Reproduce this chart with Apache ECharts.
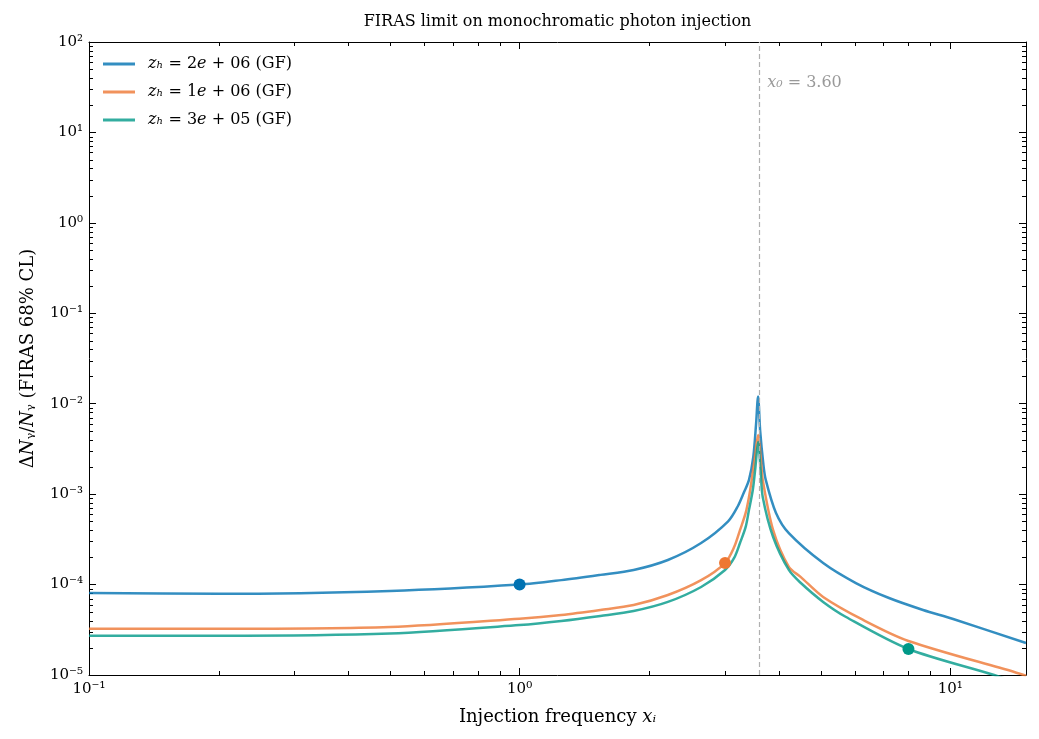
<!DOCTYPE html>
<html>
<head>
<meta charset="utf-8">
<script src="https://cdn.jsdelivr.net/npm/echarts@6/dist/echarts.min.js"></script>
<style>
  html, body { margin: 0; padding: 0; background: #fff; }
  #chart { width: 1039px; height: 739px; }
</style>
</head>
<body>
<div id="chart"></div>
<script>
// injection frequency x_i and limit dN/N for each heating redshift
const xBlue = [0.1, 0.2, 0.5, 1.0, 1.25, 1.54, 1.84, 2.21, 2.64, 3.05, 3.21, 3.32, 3.41, 3.49, 3.54, 3.58, 3.62, 3.68, 3.73, 3.94, 4.22, 5.07, 6.04, 7.21, 8.65, 10.16, 15.0]
const yBlue = [8.05e-5, 7.9e-5, 8.5e-5, 1.0e-4, 1.12e-4, 1.28e-4, 1.45e-4, 1.87e-4, 2.88e-4, 5.0e-4, 7.3e-4, 1.05e-3, 1.44e-3, 2.6e-3, 5.8e-3, 1.2e-2, 5.0e-3, 2.2e-3, 1.44e-3, 6.2e-4, 3.7e-4, 1.73e-4, 1.04e-4, 7.1e-5, 5.24e-5, 4.16e-5, 2.26e-5]

const xOrange = [0.1, 0.2, 0.5, 1.0, 1.25, 1.54, 1.84, 2.21, 2.64, 3.0, 3.15, 3.25, 3.35, 3.41, 3.46, 3.52, 3.58, 3.63, 3.67, 3.88, 4.22, 4.5, 5.07, 6.28, 8.0, 14.09, 15.0]
const yOrange = [3.25e-5, 3.25e-5, 3.4e-5, 4.2e-5, 4.61e-5, 5.24e-5, 5.95e-5, 7.67e-5, 1.12e-4, 1.73e-4, 2.6e-4, 4.0e-4, 6.2e-4, 9.3e-4, 1.44e-3, 2.6e-3, 4.5e-3, 2.6e-3, 1.44e-3, 4.0e-4, 1.57e-4, 1.21e-4, 7.3e-5, 4.06e-5, 2.38e-5, 1.08e-5, 9.8e-6]

const xGreen = [0.1, 0.2, 0.5, 1.0, 1.25, 1.54, 1.84, 2.21, 2.64, 3.0, 3.15, 3.25, 3.35, 3.41, 3.48, 3.53, 3.58, 3.63, 3.67, 3.88, 4.22, 4.5, 5.07, 5.73, 8.0, 12.65, 15.0]
const yGreen = [2.72e-5, 2.72e-5, 2.88e-5, 3.57e-5, 3.96e-5, 4.5e-5, 5.1e-5, 6.43e-5, 9.4e-5, 1.45e-4, 1.97e-4, 2.88e-4, 4.34e-4, 6.7e-4, 1.11e-3, 2.0e-3, 3.78e-3, 1.8e-3, 9.3e-4, 3.36e-4, 1.45e-4, 1.04e-4, 6.43e-5, 4.38e-5, 1.94e-5, 1.0e-5, 7.6e-6]

// highlighted points on each curve
const markerX = [1.0, 3.0, 8.0]
const markerY = [1.0e-4, 1.73e-4, 1.94e-5]

const seriesNames = ['zh = 2e+06 (GF)', 'zh = 1e+06 (GF)', 'zh = 3e+05 (GF)']
const legendText = ['2', '1', '3']
const legendExp = ['06', '06', '05']
const lineColors = ['rgba(0,114,178,0.8)', 'rgba(238,119,51,0.8)', 'rgba(0,153,136,0.8)']
const markerColors = ['#0072B2', '#EE7733', '#009988']

const x0 = 3.6
const xMin = 0.1
const xMax = 15
const yMin = 1e-5
const yMax = 1e2

const font = 'DejaVu Serif'
const supMap = {'-': '\u207b', '0': '\u2070', '1': '\u00b9', '2': '\u00b2', '3': '\u00b3', '4': '\u2074', '5': '\u2075', '6': '\u2076', '7': '\u2077', '8': '\u2078', '9': '\u2079'}

function powLabel (v) {
  let p = Math.log10(v)
  let r = Math.round(p)
  if (Math.abs(p - r) > 1e-6) return ''
  return '10' + String(r).split('').map(c => supMap[c]).join('')
}

function pairs (xs, ys) {
  return xs.map((x, i) => [x, ys[i]])
}

let chart = echarts.init(document.getElementById('chart'))

let axisLine = { show: true, onZero: false, lineStyle: { color: '#000', width: 1 } }
let majorTick = { show: true, inside: true, length: 7, lineStyle: { color: '#000', width: 1 } }
let tickLabel = { fontFamily: font, fontSize: 15, color: '#000' }
let nameRich = {
  t: { fontFamily: font, fontSize: 18, color: '#000' },
  i: { fontFamily: font, fontSize: 18, fontStyle: 'italic', color: '#000' }
}

let lineSeries = [xBlue, xOrange, xGreen].map((xs, i) => ({
  name: seriesNames[i],
  type: 'line',
  data: pairs(xs, [yBlue, yOrange, yGreen][i]),
  showSymbol: false,
  symbol: 'none',
  smooth: 0.3,
  lineStyle: { color: lineColors[i], width: 2.5 },
  itemStyle: { color: lineColors[i] },
  z: 3
}))

lineSeries[0].markLine = {
  silent: true,
  symbol: 'none',
  label: { show: false },
  lineStyle: { color: '#b0b0b0', type: [5, 3], width: 1.2 },
  data: [{ xAxis: x0 }]
}

let markerSeries = markerX.map((x, i) => ({
  type: 'scatter',
  data: [[x, markerY[i]]],
  symbolSize: 12,
  itemStyle: { color: markerColors[i], opacity: 1 },
  z: 5
}))

let option = {
  animation: false,
  backgroundColor: '#fff',
  legend: {
    orient: 'vertical',
    left: 98,
    top: 51,
    itemWidth: 32,
    itemHeight: 3,
    itemGap: 12,
    icon: 'rect',
    data: seriesNames,
    formatter: function (name) {
      let i = seriesNames.indexOf(name)
      return '{i|z\u2095} = ' + legendText[i] + '{i|e} + ' + legendExp[i] + ' (GF)'
    },
    textStyle: {
      fontFamily: font,
      fontSize: 16,
      color: '#000',
      padding: [0, 0, 0, 8],
      rich: { i: { fontFamily: font, fontSize: 16, fontStyle: 'italic', color: '#000' } }
    }
  },
  grid: { left: 89, right: 13, top: 42, bottom: 64, containLabel: false },
  xAxis: [{
    type: 'log',
    logBase: 10,
    min: xMin,
    max: xMax,
    interval: 1,
    position: 'bottom',
    name: '{t|Injection frequency }{i|x\u1d62}',
    nameLocation: 'middle',
    nameGap: 33,
    nameTextStyle: { rich: nameRich },
    axisLine: axisLine,
    axisTick: majorTick,
    axisLabel: { ...tickLabel, margin: 7, formatter: powLabel },
    splitLine: { show: false }
  }, {
    type: 'log',
    logBase: 10,
    min: xMin,
    max: xMax,
    interval: 1,
    position: 'top',
    axisLine: axisLine,
    axisTick: majorTick,
    axisLabel: { show: false },
    splitLine: { show: false }
  }],
  yAxis: [{
    type: 'log',
    logBase: 10,
    min: yMin,
    max: yMax,
    interval: 1,
    position: 'left',
    name: '{t|\u0394}{i|N}{t|\u1d67/}{i|N}{t|\u1d67 (FIRAS 68% CL)}',
    nameLocation: 'middle',
    nameGap: 52,
    nameRotate: 90,
    nameTextStyle: { rich: nameRich },
    axisLine: axisLine,
    axisTick: majorTick,
    axisLabel: { ...tickLabel, margin: 6, formatter: powLabel },
    splitLine: { show: false }
  }, {
    type: 'log',
    logBase: 10,
    min: yMin,
    max: yMax,
    interval: 1,
    position: 'right',
    axisLine: axisLine,
    axisTick: majorTick,
    axisLabel: { show: false },
    splitLine: { show: false }
  }],
  series: lineSeries.concat(markerSeries)
}

chart.setOption(option)

// log minor ticks (2..9 of every decade) on all four sides, plus title and x0 note
function extras () {
  let els = []
  let left = chart.convertToPixel({ xAxisIndex: 0 }, xMin)
  let right = chart.convertToPixel({ xAxisIndex: 0 }, xMax)
  let bottom = chart.convertToPixel({ yAxisIndex: 0 }, yMin)
  let top = chart.convertToPixel({ yAxisIndex: 0 }, yMax)
  let len = 4
  let style = { stroke: '#000', lineWidth: 1 }
  for (let d = -1; d <= 1; d++) {
    for (let m = 2; m <= 9; m++) {
      let v = m * Math.pow(10, d)
      if (v > xMax) continue
      let px = Math.round(chart.convertToPixel({ xAxisIndex: 0 }, v)) + 0.5
      els.push({ type: 'line', shape: { x1: px, y1: bottom, x2: px, y2: bottom - len }, style: style, silent: true })
      els.push({ type: 'line', shape: { x1: px, y1: top, x2: px, y2: top + len }, style: style, silent: true })
    }
  }
  for (let d = -5; d <= 1; d++) {
    for (let m = 2; m <= 9; m++) {
      let v = m * Math.pow(10, d)
      let py = Math.round(chart.convertToPixel({ yAxisIndex: 0 }, v)) + 0.5
      els.push({ type: 'line', shape: { x1: left, y1: py, x2: left + len, y2: py }, style: style, silent: true })
      els.push({ type: 'line', shape: { x1: right, y1: py, x2: right - len, y2: py }, style: style, silent: true })
    }
  }
  els.push({
    type: 'text',
    x: (left + right) / 2,
    y: 22,
    silent: true,
    style: {
      text: 'FIRAS limit on monochromatic photon injection',
      fill: '#000',
      font: '16px "DejaVu Serif"',
      align: 'center',
      verticalAlign: 'middle'
    }
  })
  let lx = chart.convertToPixel({ xAxisIndex: 0 }, x0)
  let ly = chart.convertToPixel({ yAxisIndex: 0 }, 35)
  els.push({
    type: 'text',
    x: lx + 8,
    y: ly,
    silent: true,
    style: {
      text: '{i|x\u2080} = 3.60',
      fill: '#999',
      font: '16px "DejaVu Serif"',
      verticalAlign: 'middle',
      rich: { i: { fontStyle: 'italic', fontFamily: font, fontSize: 16, fill: '#999' } }
    }
  })
  return els
}

chart.setOption({ graphic: { elements: extras() } })
</script>
</body>
</html>
